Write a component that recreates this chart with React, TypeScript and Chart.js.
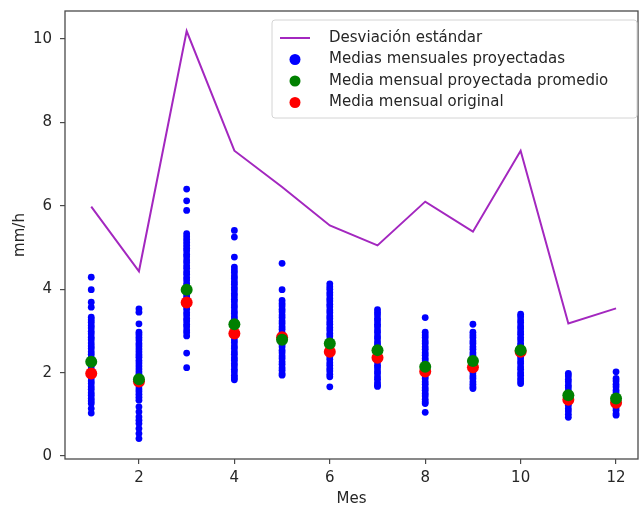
import { useEffect, useRef } from "react";
import { Chart, registerables } from "chart.js";

Chart.register(...registerables);

// ---- Data ----
const months = [1, 2, 3, 4, 5, 6, 7, 8, 9, 10, 11, 12];
const xTicks = [2, 4, 6, 8, 10, 12];
const yTicks = [0, 2, 4, 6, 8, 10];

const stdDev = [5.98, 4.43, 10.19, 7.32, 6.45, 5.53, 5.05, 6.1, 5.38, 7.32, 3.18, 3.54];
const projectedMeanAvg = [2.26, 1.84, 3.99, 3.16, 2.79, 2.7, 2.54, 2.14, 2.28, 2.54, 1.46, 1.38];
const originalMean = [1.98, 1.79, 3.68, 2.94, 2.85, 2.5, 2.36, 2.03, 2.13, 2.5, 1.35, 1.28];

const projM1 = [4.29, 3.99, 3.69, 3.57, 3.33, 3.27, 3.21, 3.13, 3.07, 2.99, 2.93, 2.85, 2.79, 2.71, 2.64, 2.58, 2.5, 2.44, 2.36, 2.3, 2.22, 2.16, 2.08, 2.02, 1.94, 1.88, 1.8, 1.74, 1.66, 1.6, 1.52, 1.46, 1.38, 1.32, 1.26, 1.14, 1.03];
const projM2 = [3.53, 3.45, 3.17, 2.97, 2.91, 2.84, 2.78, 2.7, 2.64, 2.57, 2.5, 2.43, 2.37, 2.29, 2.23, 2.16, 2.09, 2.02, 1.96, 1.88, 1.82, 1.75, 1.68, 1.61, 1.55, 1.48, 1.41, 1.34, 1.18, 1.06, 0.94, 0.86, 0.78, 0.66, 0.54, 0.42];
const projM3 = [6.4, 6.12, 5.89, 5.33, 5.26, 5.19, 5.12, 5.05, 4.98, 4.92, 4.84, 4.78, 4.7, 4.64, 4.56, 4.5, 4.42, 4.36, 4.28, 4.22, 4.14, 4.08, 4.0, 3.94, 3.86, 3.8, 3.72, 3.66, 3.58, 3.52, 3.44, 3.38, 3.3, 3.24, 3.16, 3.1, 3.02, 2.96, 2.88, 2.47, 2.12];
const projM4 = [5.41, 5.25, 4.77, 4.53, 4.46, 4.4, 4.32, 4.26, 4.18, 4.12, 4.04, 3.98, 3.9, 3.84, 3.76, 3.7, 3.62, 3.56, 3.48, 3.42, 3.34, 3.28, 3.2, 3.14, 3.06, 3.0, 2.92, 2.86, 2.78, 2.72, 2.64, 2.58, 2.5, 2.44, 2.36, 2.3, 2.22, 2.16, 2.08, 2.02, 1.94, 1.88, 1.83];
const projM5 = [4.62, 3.99, 3.73, 3.66, 3.6, 3.52, 3.46, 3.38, 3.32, 3.24, 3.18, 3.1, 3.04, 2.96, 2.9, 2.82, 2.76, 2.68, 2.62, 2.54, 2.48, 2.4, 2.34, 2.26, 2.2, 2.12, 2.06, 1.98, 1.94];
const projM6 = [4.13, 4.06, 4.0, 3.92, 3.86, 3.78, 3.72, 3.64, 3.58, 3.5, 3.44, 3.36, 3.3, 3.22, 3.16, 3.08, 3.02, 2.94, 2.88, 2.8, 2.74, 2.66, 2.6, 2.52, 2.46, 2.38, 2.32, 2.24, 2.18, 2.1, 2.04, 1.96, 1.9, 1.66];
const projM7 = [3.51, 3.44, 3.38, 3.3, 3.24, 3.16, 3.1, 3.02, 2.96, 2.88, 2.82, 2.74, 2.68, 2.6, 2.54, 2.46, 2.4, 2.32, 2.26, 2.18, 2.12, 2.04, 1.98, 1.9, 1.84, 1.76, 1.7, 1.67];
const projM8 = [3.32, 2.97, 2.9, 2.84, 2.76, 2.7, 2.62, 2.56, 2.48, 2.42, 2.34, 2.28, 2.2, 2.14, 2.06, 2.0, 1.92, 1.86, 1.78, 1.72, 1.64, 1.58, 1.5, 1.44, 1.36, 1.3, 1.26, 1.05];
const projM9 = [3.16, 2.97, 2.9, 2.84, 2.76, 2.7, 2.62, 2.56, 2.48, 2.42, 2.34, 2.28, 2.2, 2.14, 2.06, 2.0, 1.92, 1.86, 1.78, 1.72, 1.66, 1.62];
const projM10 = [3.4, 3.34, 3.26, 3.2, 3.12, 3.06, 2.98, 2.92, 2.84, 2.78, 2.7, 2.64, 2.56, 2.5, 2.42, 2.36, 2.28, 2.22, 2.14, 2.08, 2.0, 1.94, 1.86, 1.8, 1.74];
const projM11 = [1.98, 1.92, 1.84, 1.78, 1.7, 1.64, 1.56, 1.5, 1.42, 1.36, 1.28, 1.22, 1.14, 1.08, 1.0, 0.93];
const projM12 = [2.02, 1.86, 1.8, 1.72, 1.66, 1.58, 1.52, 1.44, 1.38, 1.3, 1.24, 1.16, 1.1, 1.02, 0.98];
const projectedByMonth = [projM1, projM2, projM3, projM4, projM5, projM6, projM7, projM8, projM9, projM10, projM11, projM12];

const legendLabels = [
  "Desviación estándar",
  "Medias mensuales proyectadas",
  "Media mensual proyectada promedio",
  "Media mensual original",
];

const PURPLE = "#a327bf";
const BLUE = "#0000ff";
const GREEN = "#008000";
const RED = "#ff0000";
const FONT = "'DejaVu Sans', sans-serif";
const TEXT = "#262626";

const framePlugin = {
  id: "frameAndLegend",
  afterDraw(chart: any) {
    const { ctx, chartArea } = chart;
    const { left, top, right, bottom } = chartArea;
    ctx.save();
    ctx.strokeStyle = "#4a4a4a";
    ctx.lineWidth = 1.3;
    ctx.strokeRect(left, top, right - left, bottom - top);

    // legend box
    const bx = 272, by = 20, bw = 365, bh = 98;
    ctx.beginPath();
    ctx.roundRect(bx, by, bw, bh, 3);
    ctx.fillStyle = "rgba(255,255,255,0.8)";
    ctx.fill();
    ctx.strokeStyle = "#d4d4d4";
    ctx.lineWidth = 1;
    ctx.stroke();

    const rows = [38, 59.5, 81, 102.5];
    const colors = [PURPLE, BLUE, GREEN, RED];
    ctx.font = `15px ${FONT}`;
    ctx.textBaseline = "middle";
    ctx.textAlign = "left";
    rows.forEach((ry, i) => {
      if (i === 0) {
        ctx.beginPath();
        ctx.moveTo(280, ry);
        ctx.lineTo(310, ry);
        ctx.strokeStyle = colors[i];
        ctx.lineWidth = 2;
        ctx.stroke();
      } else {
        ctx.beginPath();
        ctx.arc(295, ry, 5.5, 0, Math.PI * 2);
        ctx.fillStyle = colors[i];
        ctx.fill();
      }
      ctx.fillStyle = TEXT;
      ctx.fillText(legendLabels[i], 329, ry);
    });
    ctx.restore();
  },
};

export default function App() {
  const ref = useRef<HTMLCanvasElement | null>(null);

  useEffect(() => {
    if (!ref.current) return;
    const blueData = projectedByMonth.flatMap((vals, i) => vals.map((v) => ({ x: months[i], y: v })));
    const chart = new Chart(ref.current, {
      type: "scatter",
      data: {
        datasets: [
          {
            label: legendLabels[0],
            data: months.map((m, i) => ({ x: m, y: stdDev[i] })),
            showLine: true,
            borderColor: PURPLE,
            backgroundColor: PURPLE,
            borderWidth: 2,
            pointRadius: 0,
            order: 4,
          },
          {
            label: legendLabels[1],
            data: blueData,
            backgroundColor: BLUE,
            borderWidth: 0,
            pointRadius: 3.4,
            order: 3,
          },
          {
            label: legendLabels[2],
            data: months.map((m, i) => ({ x: m, y: projectedMeanAvg[i] })),
            backgroundColor: GREEN,
            borderWidth: 0,
            pointRadius: 6,
            order: 1,
          },
          {
            label: legendLabels[3],
            data: months.map((m, i) => ({ x: m, y: originalMean[i] })),
            backgroundColor: RED,
            borderWidth: 0,
            pointRadius: 6,
            order: 2,
          },
        ],
      },
      options: {
        responsive: false,
        animation: false,
        devicePixelRatio: 1,
        layout: { padding: { top: 11, right: 3, left: 0, bottom: 0 } },
        plugins: { legend: { display: false }, tooltip: { enabled: false } },
        scales: {
          x: {
            type: "linear",
            min: 0.45,
            max: 12.46,
            afterBuildTicks: (s: any) => {
              s.ticks = xTicks.map((v) => ({ value: v }));
            },
            afterFit: (s: any) => {
              s.height = 49;
              s.paddingLeft = 0;
              s.paddingRight = 0;
            },
            grid: { display: true, drawOnChartArea: false, drawTicks: true, tickLength: 5, color: "#4a4a4a", lineWidth: 1.2 },
            border: { display: false },
            ticks: { font: { family: FONT, size: 15 }, color: TEXT, padding: 5, maxRotation: 0 },
            title: { display: true, text: "Mes", font: { family: FONT, size: 15 }, color: TEXT, padding: { top: 0, bottom: 0 } },
          },
          y: {
            type: "linear",
            min: -0.07,
            max: 10.67,
            afterBuildTicks: (s: any) => {
              s.ticks = yTicks.map((v) => ({ value: v }));
            },
            afterFit: (s: any) => {
              s.width = 65;
              s.paddingTop = 0;
              s.paddingBottom = 0;
            },
            grid: { display: true, drawOnChartArea: false, drawTicks: true, tickLength: 5, color: "#4a4a4a", lineWidth: 1.2 },
            border: { display: false },
            ticks: { font: { family: FONT, size: 15 }, color: TEXT, padding: 8 },
            title: { display: true, text: "mm/h", font: { family: FONT, size: 15 }, color: TEXT, padding: { top: 11, bottom: 0 } },
          },
        },
      },
      plugins: [framePlugin],
    } as any);
    return () => chart.destroy();
  }, []);

  return (
    <div style={{ position: "absolute", left: 0, top: 0, width: 644, height: 508, background: "#fff" }}>
      <canvas ref={ref} width={644} height={508} style={{ display: "block" }} />
    </div>
  );
}
